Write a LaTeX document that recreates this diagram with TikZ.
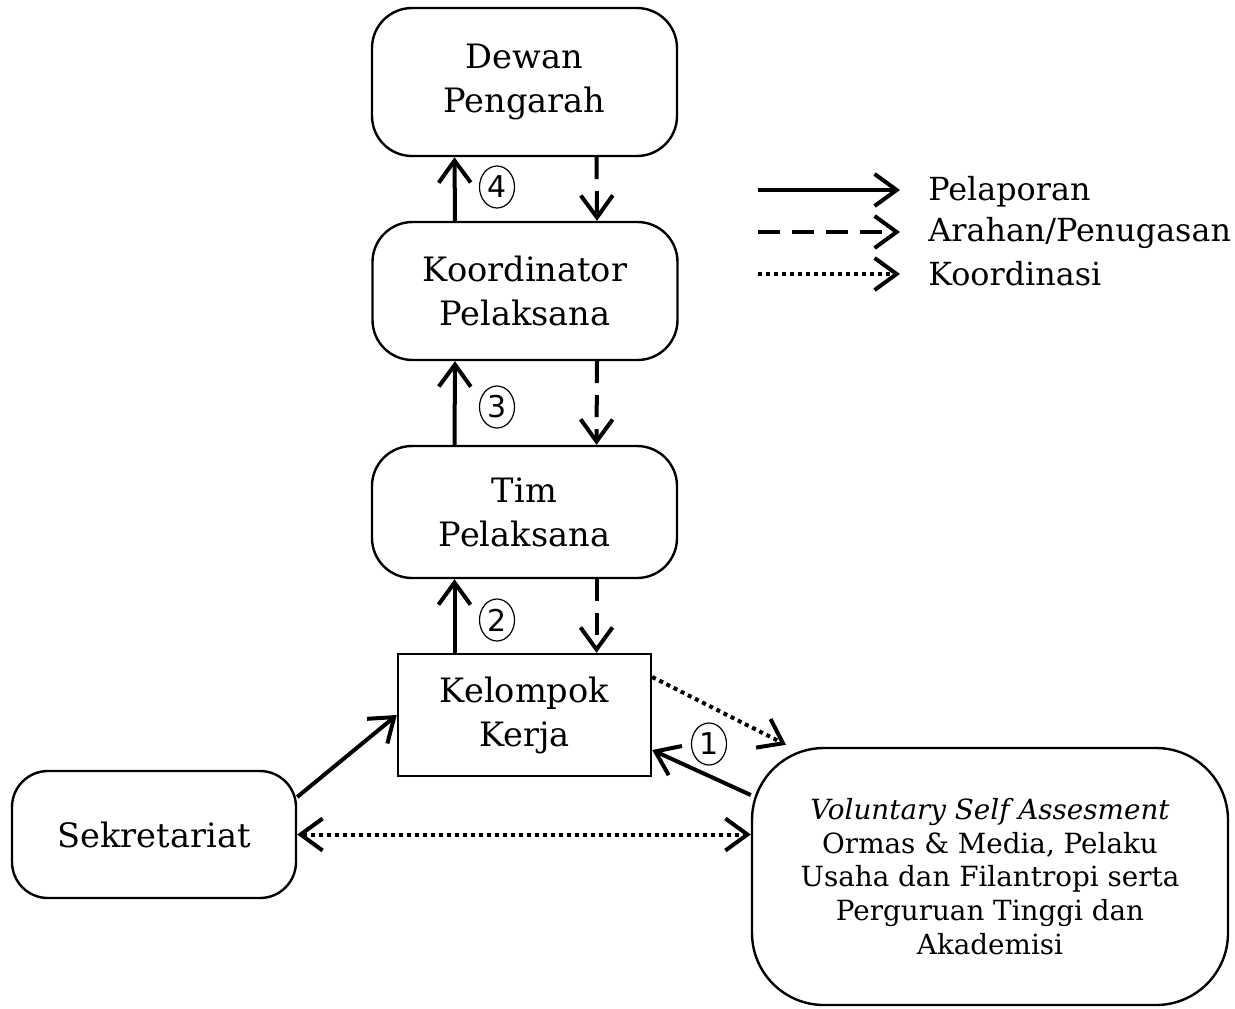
\documentclass[tikz,border=0pt]{standalone}
\usepackage{fontspec}
\setmainfont{DejaVu Serif}
\setsansfont{DejaVu Sans}
\usetikzlibrary{arrows.meta,shapes.geometric}
\tikzset{
  unit/.style={draw,line width=1.2pt,align=center,minimum width=152.5pt,
    font=\fontsize{16.8}{22}\selectfont},
  ujung/.tip={Straight Barb[length=11pt,width=16pt,line width=2pt]},
  pel/.style={line width=2pt,-ujung},
  arh/.style={pel,dash pattern=on 11pt off 6pt},
  kor/.style={pel,dash pattern=on 2pt off 2pt},
  nomor/.style={draw,ellipse,line width=0.6pt,inner sep=0pt,minimum width=17.5pt,
    minimum height=21pt,font=\sffamily\fontsize{15}{15}\selectfont}
}
\begin{document}
\begin{tikzpicture}[x=0.5pt,y=-0.5pt]
\useasboundingbox (0,0) rectangle (1235,1008);
  \node (dp) at (524.5,82) [unit,rounded corners=20pt,minimum height=74pt] {Dewan\\Pengarah};
  \node (kp) at (525,291) [unit,rounded corners=20pt,minimum height=69pt] {Koordinator\\Pelaksana};
  \node (tp) at (524.5,512) [unit,rounded corners=20pt,minimum height=66pt] {Tim\\Pelaksana};
  \node (kk) at (524.5,715) [unit,minimum width=126.5pt,minimum height=61pt] {Kelompok\\Kerja};
  \node (sek) at (154,834.5) [unit,rounded corners=18pt,minimum width=142pt,minimum height=63.5pt] {Sekretariat};
  \node (vsa) at (990,876.5) [unit,rounded corners=36pt,minimum width=238pt,minimum height=128.5pt,
    font=\fontsize{13.9}{16.8}\selectfont] {\textit{Voluntary Self Assesment}\\Ormas \& Media, Pelaku\\Usaha dan Filantropi serta\\Perguruan Tinggi dan\\Akademisi};
  \draw [pel] ([xshift=-35pt]kp.north) -- ([xshift=-35pt]dp.south);
  \draw [pel] ([xshift=-35pt]tp.north) -- ([xshift=-35pt]kp.south);
  \draw [pel] ([xshift=-35pt]kk.north) -- ([xshift=-35pt]tp.south);
  \draw [arh] ([xshift=36pt]dp.south) -- ([xshift=36pt]kp.north);
  \draw [arh] ([xshift=36pt]kp.south) -- ([xshift=36pt]tp.north);
  \draw [arh] ([xshift=36pt]tp.south) -- ([xshift=36pt]kk.north);
  \draw [pel] ([yshift=18.75pt]sek.east) -- (kk.west);
  \draw [pel] ([yshift=40.75pt]vsa.west) -- ([yshift=-17.5pt]kk.east);
  \draw [kor] ([yshift=19pt]kk.east) -- ([xshift=-102pt,yshift=1pt]vsa.north);
  \draw [kor,ujung-ujung] (sek.east) -- (sek.east -| vsa.west);
  \node (n4) at (497,187) [nomor] {4};
  \node (n3) at (497,407) [nomor] {3};
  \node (n2) at (497,620) [nomor] {2};
  \node (n1) at (709,744) [nomor] {1};
  % legenda
  \coordinate (l1) at (758,190);
  \coordinate (l2) at (758,232);
  \coordinate (l3) at (758,274);
  \node (t1) at (928,192) [anchor=west,inner sep=0pt,font=\fontsize{15.9}{15}\selectfont] {Pelaporan};
  \node (t2) at (928,233) [anchor=west,inner sep=0pt,font=\fontsize{15.9}{15}\selectfont] {Arahan/Penugasan};
  \node (t3) at (928,274) [anchor=west,inner sep=0pt,font=\fontsize{15.9}{15}\selectfont] {Koordinasi};
  \draw [pel] (l1) -- ([xshift=-14pt]t1.west |- l1);
  \draw [arh] (l2) -- ([xshift=-14pt]t2.west |- l2);
  \draw [kor] (l3) -- ([xshift=-14pt]t3.west |- l3);
\end{tikzpicture}
\end{document}
